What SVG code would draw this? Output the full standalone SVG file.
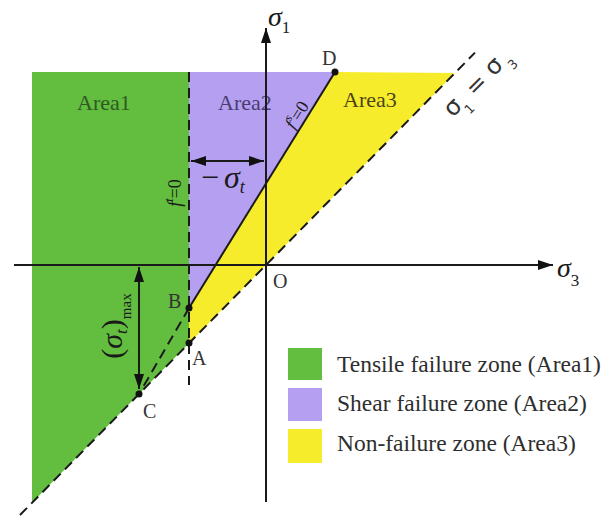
<svg xmlns="http://www.w3.org/2000/svg" width="606" height="516" viewBox="0 0 606 516">
<defs>
<style>
.green{fill:#63bd3f}
.purple{fill:#b49ff0}
.yellow{fill:#f7ec2c}
.axis{stroke:#1a1a1a;stroke-width:2;fill:none}
.dash{stroke:#1a1a1a;stroke-width:2;fill:none;stroke-dasharray:10 6}
.serif{font-family:"Liberation Serif","Times New Roman",serif}
.lbl{font-family:"Liberation Serif","Times New Roman",serif;font-size:20px;fill:#333}
.leg{font-family:"Liberation Serif","Times New Roman",serif;font-size:23.5px;fill:#2e2e2e}
.math{font-family:"Liberation Serif","Times New Roman",serif;font-style:italic;fill:#1a1a1a}
.dot{fill:#111}
</style>
<marker id="arr" viewBox="0 0 15 10" refX="15" refY="5" markerWidth="15" markerHeight="10" markerUnits="userSpaceOnUse" orient="auto-start-reverse">
<path d="M0,0 L15,5 L0,10 z" fill="#111"/>
</marker>
</defs>
<rect width="606" height="516" fill="#fff"/>
<g id="area1"><polygon class="green" points="32,72 189,72 189,343.2 32,502.7"/>
<text x="77" y="110" class="serif" font-size="22" fill="#2e5a22">Area1</text></g>
<g id="area2"><polygon class="purple" points="189,72 335,72 189,308"/>
<text x="218" y="110" class="serif" font-size="22" fill="#4b3d72">Area2</text></g>
<g id="area3"><polygon class="yellow" points="335,72 455,73 189,343.2 189,308"/>
<text x="343" y="107" class="serif" font-size="22" fill="#4a4516">Area3</text></g>
<g id="connectors">
<line class="axis" x1="14" y1="265" x2="553" y2="265" marker-end="url(#arr)"/>
<line class="axis" x1="266" y1="502" x2="266" y2="28" marker-end="url(#arr)"/>
<line class="dash" x1="20" y1="515" x2="475" y2="52.6"/>
<line class="dash" x1="189" y1="72" x2="189" y2="385"/>
<line class="dash" x1="189" y1="308" x2="139" y2="394"/>
<line class="axis" x1="189" y1="308" x2="335" y2="72"/>
<line class="axis" x1="191" y1="161" x2="264" y2="161" marker-start="url(#arr)" marker-end="url(#arr)"/>
<line class="axis" x1="139" y1="267" x2="139" y2="389" marker-start="url(#arr)" marker-end="url(#arr)"/>
</g>
<g id="points">
<circle class="dot" cx="335" cy="72" r="3.5"/>
<circle class="dot" cx="189" cy="308" r="3.5"/>
<circle class="dot" cx="189" cy="343" r="3.5"/>
<circle class="dot" cx="139" cy="394" r="3.5"/>
<text class="lbl" x="322" y="65">D</text>
<text class="lbl" x="168" y="308">B</text>
<text class="lbl" x="192" y="365">A</text>
<text class="lbl" x="143" y="418">C</text>
<text class="lbl" x="273" y="288">O</text>
</g>
<g id="labels">
<text class="math" x="268" y="26" font-size="28">σ<tspan font-style="normal" font-size="17" dy="7">1</tspan></text>
<text class="math" x="557" y="277" font-size="28">σ<tspan font-style="normal" font-size="17" dy="9">3</tspan></text>
<text class="math" x="201" y="188" font-size="32"><tspan font-style="normal">−</tspan><tspan dx="5">σ</tspan><tspan font-size="18" dy="5">t</tspan></text>
<text class="math" transform="translate(122,326) rotate(-90)" text-anchor="middle" font-size="30"><tspan font-style="normal">(</tspan>σ<tspan font-size="17" dy="5">t</tspan><tspan font-style="normal" dy="-5">)</tspan><tspan font-style="normal" font-size="15" dy="9">max</tspan></text>
<text class="math" transform="translate(181,193) rotate(-90)" text-anchor="middle" font-size="18" fill="#2b5a1c">f<tspan font-size="12" dy="-8">t</tspan><tspan font-style="normal" dy="8">=0</tspan></text>
<text class="math" transform="translate(302,118) rotate(-58)" text-anchor="middle" font-size="18" fill="#3b2f6e">f<tspan font-size="12" dy="-8">s</tspan><tspan font-style="normal" dy="8">=0</tspan></text>
<text transform="translate(452.8,117.9) rotate(-45)" font-family="'DejaVu Sans',sans-serif" font-size="24" fill="#333">σ<tspan x="14" y="10" font-size="13">1</tspan><tspan x="30" y="1">=</tspan><tspan x="58" y="0">σ</tspan><tspan x="76" y="9" font-size="13">3</tspan></text>
</g>
<g id="legend">
<rect class="green" x="288" y="348" width="34" height="32"/>
<rect class="purple" x="288" y="388" width="34" height="33"/>
<rect class="yellow" x="288" y="429" width="34" height="34"/>
<text class="leg" x="337" y="372">Tensile failure zone (Area1)</text>
<text class="leg" x="337" y="411">Shear failure zone (Area2)</text>
<text class="leg" x="337" y="451">Non-failure zone (Area3)</text>
</g>
</svg>
